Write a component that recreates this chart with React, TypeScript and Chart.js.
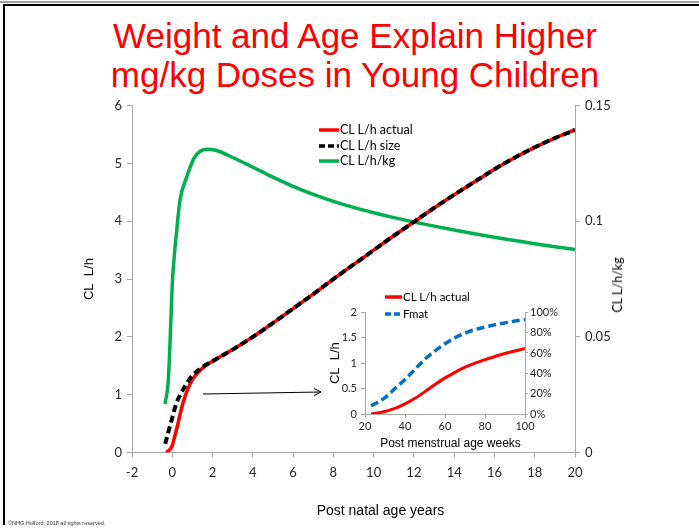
import React, { useEffect, useRef } from 'react';
import { Chart, registerables } from 'chart.js';

Chart.register(...registerables);

const FONT = 'Lato, "Open Sans", sans-serif';
const ARIAL = '"Liberation Sans", Arial, sans-serif';
const TICK_COLOR = '#262626';
const AXIS_COLOR = '#a6a6a6';

// ---- Main chart data (post natal age, years) ----
const ageActual = [-0.3, -0.15, 0, 0.1, 0.25, 0.4, 0.55, 0.75, 1, 1.25, 1.5, 2, 3, 4, 5, 6, 7, 8, 9, 10, 11, 12, 13, 14, 15, 16, 17, 18, 19, 20];
const clActual = [0, 0.04, 0.12, 0.25, 0.45, 0.68, 0.88, 1.08, 1.26, 1.37, 1.46, 1.58, 1.78, 2.0, 2.24, 2.49, 2.74, 3.0, 3.25, 3.5, 3.75, 3.99, 4.23, 4.46, 4.68, 4.9, 5.1, 5.28, 5.44, 5.58];

const ageSize = [-0.35, -0.2, 0, 0.2, 0.4, 0.6, 0.8, 1, 1.5, 2, 3, 4, 5, 6, 7, 8, 9, 10, 11, 12, 13, 14, 15, 16, 17, 18, 19, 20];
const clSize = [0.15, 0.35, 0.6, 0.85, 1.0, 1.13, 1.24, 1.33, 1.48, 1.58, 1.78, 2.0, 2.24, 2.49, 2.74, 3.0, 3.25, 3.5, 3.75, 3.99, 4.23, 4.46, 4.68, 4.9, 5.1, 5.28, 5.44, 5.58];

const agePerKg = [-0.36, -0.2, -0.1, 0, 0.1, 0.22, 0.38, 0.71, 1.13, 1.71, 2.2, 3, 4, 5, 6, 7, 8, 9, 10, 11, 12, 13, 14, 15, 16, 17, 18, 19, 20];
const clPerKg = [0.021, 0.031, 0.05, 0.073, 0.085, 0.096, 0.109, 0.119, 0.128, 0.1312, 0.1306, 0.1276, 0.1234, 0.1191, 0.1151, 0.1116, 0.1086, 0.106, 0.1037, 0.1016, 0.0997, 0.0979, 0.0962, 0.0946, 0.0931, 0.0917, 0.0903, 0.089, 0.0878];

// ---- Inset data (post menstrual age, weeks) ----
const pmaWeeks = [23, 26, 30, 35, 40, 45, 50, 55, 60, 65, 70, 75, 80, 85, 90, 95, 100];
const insetCL = [0.0, 0.02, 0.05, 0.11, 0.2, 0.31, 0.44, 0.58, 0.71, 0.82, 0.92, 1.0, 1.07, 1.13, 1.19, 1.24, 1.29];
const fmatPct = [8, 11, 16, 25, 34, 44, 54, 62, 69, 75, 79.5, 83, 85.5, 87.7, 89.6, 91.4, 93];

const titleLines = ['Weight and Age Explain Higher', 'mg/kg Doses in Young Children'];

const pts = (xs: number[], ys: number[]) => xs.map((x, i) => ({ x, y: ys[i] }));
const fmtNum = (v: any) => String(Number(Number(v).toFixed(3)));

const axisCommon = (size: number, tickLength: number, padding: number) => ({
  grid: { drawOnChartArea: false, drawTicks: true, tickLength, color: AXIS_COLOR },
  border: { display: true, color: AXIS_COLOR, width: 1 },
  ticks: { font: { family: FONT, size }, color: TICK_COLOR, padding, callback: fmtNum },
});

function MainChart() {
  const ref = useRef<HTMLCanvasElement>(null);
  useEffect(() => {
    const chart = new Chart(ref.current!, {
      type: 'line',
      data: {
        datasets: [
          { label: 'CL L/h size', data: pts(ageSize, clSize), borderColor: '#000000', borderWidth: 4, borderDash: [7, 4], pointRadius: 0, cubicInterpolationMode: 'monotone', yAxisID: 'y', fill: false },
          { label: 'CL L/h actual', data: pts(ageActual, clActual), borderColor: '#ff0000', borderWidth: 3.5, pointRadius: 0, cubicInterpolationMode: 'monotone', yAxisID: 'y', fill: false },
          { label: 'CL L/h/kg', data: pts(agePerKg, clPerKg), borderColor: '#00b050', borderWidth: 3.5, pointRadius: 0, cubicInterpolationMode: 'monotone', yAxisID: 'y1', fill: false },
        ],
      },
      options: {
        responsive: false,
        animation: false,
        layout: { padding: { left: 72, right: 64, top: 105.7, bottom: 46.5 } },
        plugins: { legend: { display: false }, tooltip: { enabled: false } },
        scales: {
          x: {
            type: 'linear', min: -2, max: 20,
            ...axisCommon(13, 5, 8),
            ticks: { ...axisCommon(13, 5, 8).ticks, stepSize: 2 },
            afterFit: (s: any) => { s.height = 30; },
          },
          y: {
            type: 'linear', position: 'left', min: 0, max: 6,
            ...axisCommon(13, 5, 5),
            ticks: { ...axisCommon(13, 5, 5).ticks, stepSize: 1 },
            title: { display: true, text: 'CL  L/h', color: '#000', font: { family: ARIAL, size: 13 }, padding: { top: 10, bottom: 0 } },
            afterFit: (s: any) => { s.width = 60; },
          },
          y1: {
            type: 'linear', position: 'right', min: 0, max: 0.15,
            ...axisCommon(13, 5, 5),
            ticks: { ...axisCommon(13, 5, 5).ticks, stepSize: 0.05 },
            afterFit: (s: any) => { s.width = 60; },
          },
        },
      } as any,
    });
    return () => chart.destroy();
  }, []);
  return <canvas ref={ref} width={699} height={529} style={{ position: 'absolute', left: 0, top: 0 }} />;
}

function InsetChart() {
  const ref = useRef<HTMLCanvasElement>(null);
  useEffect(() => {
    const chart = new Chart(ref.current!, {
      type: 'line',
      data: {
        datasets: [
          { label: 'CL L/h actual', data: pts(pmaWeeks, insetCL), borderColor: '#ff0000', borderWidth: 3, pointRadius: 0, cubicInterpolationMode: 'monotone', yAxisID: 'y', fill: false },
          { label: 'Fmat', data: pts(pmaWeeks, fmatPct), borderColor: '#0070c0', borderWidth: 3.5, borderDash: [8, 4], pointRadius: 0, cubicInterpolationMode: 'monotone', yAxisID: 'y1', fill: false },
        ],
      },
      options: {
        responsive: false,
        animation: false,
        layout: { padding: { left: 20, right: 5, top: 27.3, bottom: 6 } },
        plugins: { legend: { display: false }, tooltip: { enabled: false } },
        scales: {
          x: {
            type: 'linear', min: 20, max: 100,
            ...axisCommon(11, 4, 2),
            ticks: { ...axisCommon(11, 4, 2).ticks, stepSize: 20 },
            afterFit: (s: any) => { s.height = 40; },
          },
          y: {
            type: 'linear', position: 'left', min: 0, max: 2,
            ...axisCommon(11, 4, 4),
            ticks: { ...axisCommon(11, 4, 4).ticks, stepSize: 0.5 },
            title: { display: true, text: 'CL  L/h', color: '#000', font: { family: ARIAL, size: 13 }, padding: { top: 7.2, bottom: 0 } },
            afterFit: (s: any) => { s.width = 45; },
          },
          y1: {
            type: 'linear', position: 'right', min: 0, max: 100,
            ...axisCommon(11, 3, 2),
            ticks: { ...axisCommon(11, 3, 2).ticks, stepSize: 20, callback: (v: any) => `${v}%` },
            afterFit: (s: any) => { s.width = 40; },
          },
        },
      } as any,
    });
    return () => chart.destroy();
  }, []);
  return <canvas ref={ref} width={270} height={175} style={{ position: 'absolute', left: 300, top: 285 }} />;
}

function LegendRow({ x, y, color, dash, text, size, len }: { x: number; y: number; color: string; dash?: string; text: string; size: number; len: number }) {
  return (
    <div style={{ position: 'absolute', left: x, top: y - 10, height: 20, display: 'flex', alignItems: 'center', whiteSpace: 'nowrap' }}>
      <svg width={len} height={8} style={{ display: 'block' }}>
        <line x1={0} y1={4} x2={len} y2={4} stroke={color} strokeWidth={3.5} strokeDasharray={dash} />
      </svg>
      <span style={{ fontFamily: FONT, fontSize: size, color: '#000', marginLeft: 1, lineHeight: '20px' }}>{text}</span>
    </div>
  );
}

export default function App() {
  return (
    <div style={{ position: 'absolute', left: 0, top: 0, width: 699, height: 529, background: '#fff', overflow: 'hidden' }}>
      {/* slide frame */}
      <div style={{ position: 'absolute', left: 0, top: 1, width: 699, height: 2, background: '#a0a0a0' }} />
      <div style={{ position: 'absolute', left: 3, top: 4, width: 696, height: 2, background: '#000' }} />
      <div style={{ position: 'absolute', left: 3, top: 4, width: 2, height: 521, background: '#000' }} />

      {/* title */}
      <div style={{ position: 'absolute', left: 0, top: 16, width: 710, textAlign: 'center', fontFamily: ARIAL, fontSize: 35, lineHeight: '39px', color: '#ff0000' }}>
        {titleLines.map((t) => (<div key={t}>{t}</div>))}
      </div>

      <MainChart />
      <InsetChart />

      {/* right axis title (reads bottom-to-top) */}
      <div style={{ position: 'absolute', left: 618, top: 285, transform: 'translate(-50%, -50%) rotate(-90deg)', fontFamily: FONT, fontSize: 12.5, lineHeight: '16px', color: '#000', whiteSpace: 'nowrap' }}>
        CL L/h/kg
      </div>

      {/* main legend */}
      <LegendRow x={319} y={130} color="#ff0000" text="CL L/h actual" size={12.5} len={20} />
      <LegendRow x={319} y={145.5} color="#000000" dash="6 3" text="CL L/h size" size={12.5} len={20} />
      <LegendRow x={319} y={161} color="#00b050" text="CL L/h/kg" size={12.5} len={20} />

      {/* inset legend */}
      <LegendRow x={385} y={296.7} color="#ff0000" text="CL L/h actual" size={11.5} len={17} />
      <LegendRow x={385} y={314} color="#0070c0" dash="6 3" text="Fmat" size={11.5} len={17} />

      {/* arrow */}
      <svg width={699} height={529} style={{ position: 'absolute', left: 0, top: 0, pointerEvents: 'none' }}>
        <line x1={203} y1={394} x2={321} y2={392} stroke="#000" strokeWidth={1} />
        <polyline points="314,388.5 321,392 314,395.5" fill="none" stroke="#000" strokeWidth={1} />
      </svg>

      {/* inset x-axis title */}
      <div style={{ position: 'absolute', left: 350, top: 434, width: 201, textAlign: 'center', fontFamily: ARIAL, fontSize: 12, lineHeight: '18px', color: '#000' }}>
        Post menstrual age weeks
      </div>

      {/* main x-axis title */}
      <div style={{ position: 'absolute', left: 280, top: 500, width: 201, textAlign: 'center', fontFamily: ARIAL, fontSize: 14, lineHeight: '20px', color: '#000' }}>
        Post natal age years
      </div>

      {/* footer */}
      <div style={{ position: 'absolute', left: 8, top: 519, fontFamily: ARIAL, fontSize: 5.5, lineHeight: '8px', color: '#333', whiteSpace: 'nowrap' }}>
        ©NHG Holford, 2018 all rights reserved.
      </div>
    </div>
  );
}
